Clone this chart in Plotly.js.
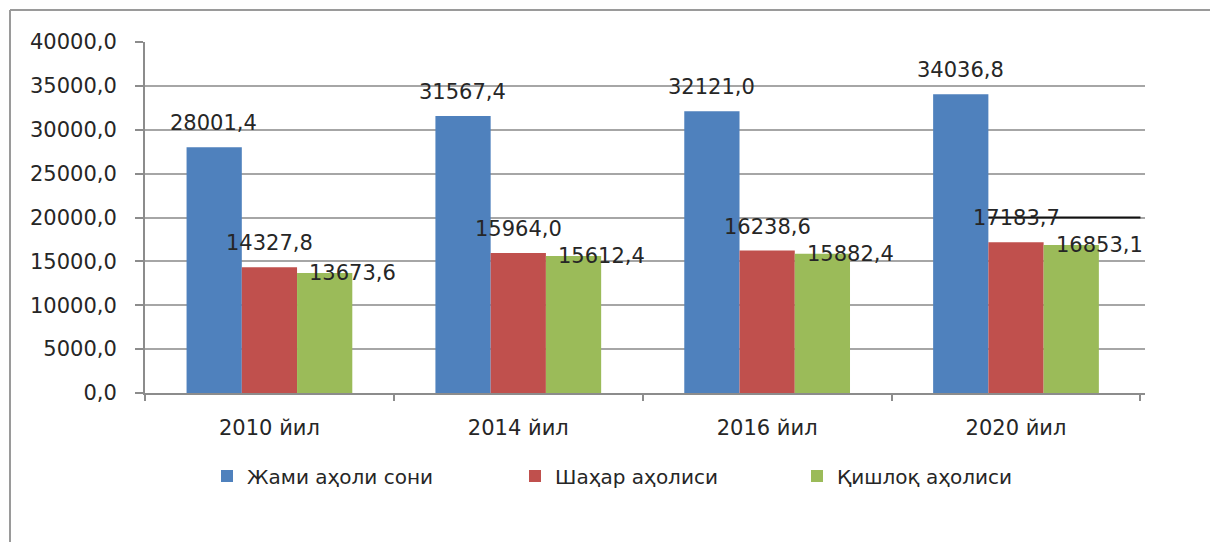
<!DOCTYPE html>
<html>
<head>
<meta charset="utf-8">
<script src="https://cdn.plot.ly/plotly-3.0.1.min.js"></script>
<style>
  html, body { margin: 0; padding: 0; background: #ffffff; }
  #chart { width: 1210px; height: 542px; }
</style>
</head>
<body>
<div id="chart"></div>
<script>
// ---- data ----
const categories = ["2010 йил", "2014 йил", "2016 йил", "2020 йил"];
const seriesNames = ["Жами аҳоли сони", "Шаҳар аҳолиси", "Қишлоқ аҳолиси"];
const totalPop = [28001.4, 31567.4, 32121.0, 34036.8];
const urbanPop = [14327.8, 15964.0, 16238.6, 17183.7];
const ruralPop = [13673.6, 15612.4, 15882.4, 16853.1];
const yTicks = [0, 5000, 10000, 15000, 20000, 25000, 30000, 35000, 40000];

const colors = ["#4F81BD", "#C0504D", "#9BBB59"];
const seriesValues = [totalPop, urbanPop, ruralPop];
const legendIds = ["legend", "legend2", "legend3"];

const fmt = v => v.toFixed(1).replace(".", ",");

const traces = seriesValues.map((vals, i) => ({
  type: "bar",
  name: seriesNames[i],
  x: categories,
  y: vals,
  marker: { color: colors[i] },
  legend: legendIds[i],
  hoverinfo: "x+y+name"
}));

const bargap = 0.334;
const barPx = 1000 / categories.length * (1 - bargap) / 3;
const labelFont = { family: "DejaVu Sans, Verdana, sans-serif", size: 21, color: "#262626" };

const annotations = [];
seriesValues.forEach((vals, i) => {
  vals.forEach((v, j) => {
    const isRural = i === 2;
    annotations.push({
      x: categories[j], y: v, xref: "x", yref: "y",
      text: fmt(v), showarrow: false,
      font: labelFont,
      xanchor: "center", yanchor: "middle",
      xshift: (i - 1) * barPx + (isRural ? 28 : 0),
      yshift: isRural ? 0 : 24
    });
  });
});

const legendBase = {
  orientation: "h", yanchor: "middle", xanchor: "left",
  y: -0.2365, bgcolor: "rgba(0,0,0,0)",
  font: { family: "DejaVu Sans, sans-serif", size: 20, color: "#262626" }
};

const frame = { color: "#9a9a9a", width: 2 };

const layout = {
  width: 1210, height: 542,
  margin: { l: 145, r: 65, t: 42, b: 149 },
  paper_bgcolor: "#ffffff", plot_bgcolor: "#ffffff",
  barmode: "group", bargap: bargap, bargroupgap: 0,
  showlegend: true,
  legend: Object.assign({}, legendBase, { x: 0.062 }),
  legend2: Object.assign({}, legendBase, { x: 0.370 }),
  legend3: Object.assign({}, legendBase, { x: 0.652 }),
  xaxis: {
    type: "category",
    showline: true, linecolor: "#8c8c8c", linewidth: 2,
    ticks: "outside", tickson: "boundaries", ticklen: 6, tickcolor: "#8c8c8c", tickwidth: 2,
    tickfont: { family: "DejaVu Sans, sans-serif", size: 21, color: "#262626" },
    ticklabelstandoff: 15,
    showgrid: false, zeroline: false, fixedrange: true
  },
  yaxis: {
    range: [0, 40000],
    tickvals: yTicks,
    ticktext: yTicks.map(fmt),
    showline: true, linecolor: "#8c8c8c", linewidth: 2,
    ticks: "outside", ticklen: 8, tickcolor: "#8c8c8c", tickwidth: 2,
    tickfont: { family: "DejaVu Sans, Verdana, sans-serif", size: 21, color: "#262626" },
    ticklabelstandoff: 14,
    showgrid: true, gridcolor: "#a6a6a6", gridwidth: 2,
    zeroline: false, fixedrange: true
  },
  annotations: annotations,
  shapes: [
    { type: "line", xref: "paper", yref: "paper",
      x0: -0.135, x1: 1.065, y0: 1.091, y1: 1.091, line: frame, layer: "below" },
    { type: "line", xref: "paper", yref: "paper",
      x0: -0.135, x1: -0.135, y0: 1.091, y1: -0.43, line: frame, layer: "below" },
    { type: "line", xref: "x", yref: "y",
      x0: 3 - (1 - bargap) / 2 + (1 - bargap) / 3, x1: 3.5, y0: yTicks[4], y1: yTicks[4],
      line: { color: "#111111", width: 2 }, layer: "above" }
  ]
};

Plotly.newPlot("chart", traces, layout, { displayModeBar: false, responsive: false });
</script>
</body>
</html>
